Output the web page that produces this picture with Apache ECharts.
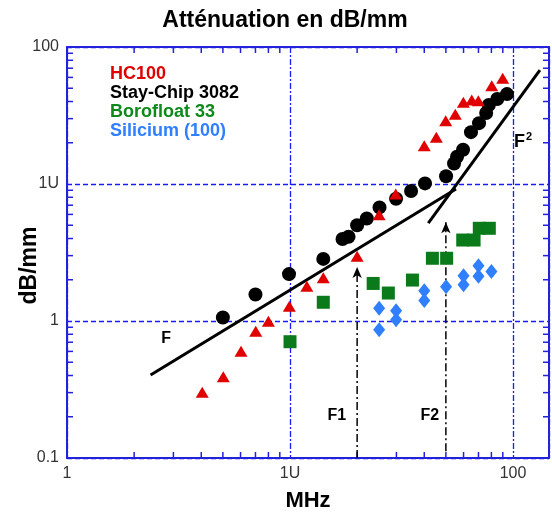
<!DOCTYPE html>
<html><head><meta charset="utf-8">
<script src="https://cdn.jsdelivr.net/npm/echarts@6/dist/echarts.min.js"></script>
<style>html,body{margin:0;padding:0;background:#fff}#c{width:552px;height:518px}</style>
</head><body><div id="c"></div>
<script>
// ---- data (MHz, dB/mm) ----
const hc100 = [[4.04,0.302],[5.02,0.392],[6.03,0.601],[7.02,0.841],[8.0,0.995],[9.93,1.28],[11.9,1.79],[14.1,2.07],[20,2.97],[25.1,5.97],[29.8,8.45],[40,19],[45.3,21.9],[49.9,29],[55.1,32.3],[59.9,39.5],[65.3,41],[69.9,40.6],[80.3,52.2],[89.9,59.1]];
const stayChip = [[5.0,1.06],[7.0,1.56],[9.9,2.2],[14.1,2.84],[17.2,3.97],[18.3,4.12],[20,5.0],[22.1,5.6],[25.2,6.75],[29.9,7.8],[34.9,8.9],[40.3,10.1],[50.1,11.4],[54.4,14.1],[56.1,15.8],[59.7,17.8],[64.8,23.9],[70.4,27.8],[75.8,33],[77.9,37.7],[85,41.7],[94,45.3]];
const borofloat = [[10,0.706],[14.1,1.37],[23.6,1.88],[27.6,1.60],[35.4,1.99],[43.5,2.87],[50.4,2.87],[59.5,3.90],[66.9,3.90],[70.6,4.75],[78.3,4.75]];
const silicium = [[25.1,1.24],[25.1,0.864],[29.9,1.19],[29.9,1.02],[40,1.66],[40,1.41],[50.1,1.78],[60,2.14],[60,1.84],[70,2.53],[70,2.12],[80,2.30]];
const lineF = [[2.37,0.403],[55.5,9.2]];
const lineF2 = [[41.7,5.19],[132,67.9]];
const markerF1 = [[20,0.1],[20,2.48]];
const markerF2 = [[50,0.112],[50,5.25]];
const annotations = [[2.78,0.743,'F'],[16.2,0.204,'F1'],[42.4,0.204,'F2'],[110.9,20.4,'F2sq']];
const xTickLabels = ['1','1U','100'];          // exponents 0..2
const yTickLabels = ['0.1','1','1U','100'];    // exponents -1..2
const xMinor = [2,3,4,5,6,7,8,9,20,30,40,50,60,70,80,90];
const yMinor = [0.2,0.3,0.4,0.5,0.6,0.7,0.8,0.9,2,3,4,5,6,7,8,9,20,30,40,50,60,70,80,90];
const X_MIN = 1, X_MAX = 145, Y_MIN = 0.1, Y_MAX = 100;

const FONT = "'Liberation Sans', Arial, Helvetica, sans-serif";
const TICKFONT = "'Liberation Sans Narrow', 'Liberation Sans', Arial, sans-serif";
const BLUE = '#2222dd';
const GRID = '#1a1aff';

const tickData = [];
xMinor.forEach(v => { tickData.push([v, Y_MIN, 0]); tickData.push([v, Y_MAX, 1]); });
yMinor.forEach(v => { tickData.push([X_MIN, v, 2]); tickData.push([X_MAX, v, 3]); });

function expLabel(arr, offset) {
  return function (v) {
    const e = Math.log10(v), r = Math.round(e);
    if (Math.abs(e - r) > 1e-6) return '';
    return arr[r + offset] || '';
  };
}

const chart = echarts.init(document.getElementById('c'), null, {renderer: 'canvas'});
chart.setOption({
  animation: false,
  backgroundColor: '#fff',
  title: {
    text: 'Atténuation en dB/mm', left: 280, top: 4, textAlign: 'center',
    textStyle: {fontFamily: FONT, fontSize: 23, fontWeight: 'bold', color: '#000'}
  },
  legend: {
    orient: 'vertical', left: 100, top: 60, icon: 'none', itemWidth: 0, itemHeight: 19, itemGap: 0,
    selectedMode: false,
    textStyle: {fontFamily: FONT, fontSize: 18, fontWeight: 'bold', lineHeight: 19},
    data: [
      {name: 'HC100', textStyle: {color: '#e00000'}},
      {name: 'Stay-Chip 3082', textStyle: {color: '#000000'}},
      {name: 'Borofloat 33', textStyle: {color: '#0d8a1a'}},
      {name: 'Silicium (100)', textStyle: {color: '#2f7fff'}}
    ]
  },
  grid: {left: 67, top: 47, width: 482, height: 411, containLabel: false, outerBoundsMode: 'none'},
  xAxis: [{
    type: 'log', logBase: 10, min: X_MIN, max: X_MAX, position: 'bottom',
    name: 'MHz', nameLocation: 'middle', nameGap: 32, nameMoveOverlap: false,
    nameTextStyle: {fontFamily: FONT, fontSize: 22, fontWeight: 'bold', color: '#000'},
    axisLine: {show: true, lineStyle: {color: BLUE, width: 2}},
    axisTick: {show: false},
    axisLabel: {margin: 8, fontFamily: TICKFONT, fontSize: 16, color: '#333', formatter: expLabel(xTickLabels, 0)},
    splitLine: {show: true, lineStyle: {color: GRID, width: 1.3, type: [6, 2, 2, 2]}}
  }, {
    type: 'log', logBase: 10, min: X_MIN, max: X_MAX, position: 'top',
    axisLine: {show: true, lineStyle: {color: BLUE, width: 2}},
    axisTick: {show: false}, axisLabel: {show: false}, splitLine: {show: false}
  }],
  yAxis: [{
    type: 'log', logBase: 10, min: Y_MIN, max: Y_MAX, position: 'left',
    name: 'dB/mm', nameLocation: 'middle', nameGap: 26, nameRotate: 90, nameMoveOverlap: false,
    nameTextStyle: {fontFamily: FONT, fontSize: 23, fontWeight: 'bold', color: '#000', padding: [0, 26, 0, 0]},
    axisLine: {show: true, lineStyle: {color: BLUE, width: 2}},
    axisTick: {show: false},
    axisLabel: {margin: 8, fontFamily: TICKFONT, fontSize: 16, color: '#333', formatter: expLabel(yTickLabels, 1)},
    splitLine: {show: true, lineStyle: {color: GRID, width: 1.3, type: [5, 3]}}
  }, {
    type: 'log', logBase: 10, min: Y_MIN, max: Y_MAX, position: 'right',
    axisLine: {show: true, lineStyle: {color: BLUE, width: 2}},
    axisTick: {show: false}, axisLabel: {show: false}, splitLine: {show: false}
  }],
  series: [
    {
      type: 'custom', name: 'ticks', silent: true, z: 3,
      dimensions: ['x', 'y', 's'], encode: {x: 0, y: 1},
      data: tickData,
      renderItem: function (params, api) {
        const p = api.coord([api.value(0), api.value(1)]);
        const s = api.value(2), L = 6;
        let x2 = p[0], y2 = p[1];
        if (s === 0) y2 -= L; else if (s === 1) y2 += L; else if (s === 2) x2 += L; else x2 -= L;
        return {type: 'line', shape: {x1: p[0], y1: p[1], x2: x2, y2: y2}, style: {stroke: BLUE, lineWidth: 1.5}};
      }
    },
    {type: 'line', name: 'F1', data: markerF1.map((d, i) => ({value: d, symbol: i === 1 ? 'arrow' : 'none', symbolSize: [7, 11]})),
     showSymbol: true, itemStyle: {color: '#000'}, lineStyle: {color: '#000', width: 1.5, type: [8, 3, 2, 3]}, silent: true, z: 4},
    {type: 'line', name: 'F2', data: markerF2.map((d, i) => ({value: d, symbol: i === 1 ? 'arrow' : 'none', symbolSize: [7, 11]})),
     showSymbol: true, itemStyle: {color: '#000'}, lineStyle: {color: '#000', width: 1.5, type: [8, 3, 2, 3]}, silent: true, z: 4},
    {type: 'line', name: 'lineF', data: lineF, symbol: 'none', lineStyle: {color: '#000', width: 3}, silent: true, z: 4},
    {type: 'line', name: 'lineF2', data: lineF2, symbol: 'none', lineStyle: {color: '#000', width: 3}, silent: true, z: 4},
    {type: 'scatter', name: 'Stay-Chip 3082', data: stayChip, symbol: 'circle', symbolSize: 14, itemStyle: {color: '#000', opacity: 1}, z: 5},
    {type: 'scatter', name: 'HC100', data: hc100, symbol: 'triangle', symbolSize: [13, 11], itemStyle: {color: '#e00000', opacity: 1}, z: 6},
    {type: 'scatter', name: 'Borofloat 33', data: borofloat, symbol: 'rect', symbolSize: 13, itemStyle: {color: '#0a7a1a', opacity: 1}, z: 6},
    {type: 'scatter', name: 'Silicium (100)', data: silicium, symbol: 'diamond', symbolSize: [12, 15], itemStyle: {color: '#2f7fff', opacity: 1}, z: 6},
    {
      type: 'scatter', name: 'labels', symbol: 'circle', symbolSize: 1, silent: true, z: 7,
      itemStyle: {color: 'rgba(0,0,0,0)'},
      data: annotations.map(a => ({value: [a[0], a[1]], txt: a[2]})),
      label: {
        show: true, position: 'inside', color: '#000', opacity: 1, textBorderWidth: 0,
        fontFamily: FONT, fontSize: 16, fontWeight: 'bold',
        formatter: function (p) { return p.data.txt === 'F2sq' ? '{a|F}{b|2}' : p.data.txt; },
        rich: {
          a: {fontFamily: FONT, fontSize: 18, fontWeight: 'bold', color: '#000', textBorderWidth: 0},
          b: {fontFamily: FONT, fontSize: 11, color: '#000', textBorderWidth: 0, padding: [0, 0, 10, 1]}
        }
      },
      labelLayout: {hideOverlap: false}
    }
  ]
});
</script></body></html>
